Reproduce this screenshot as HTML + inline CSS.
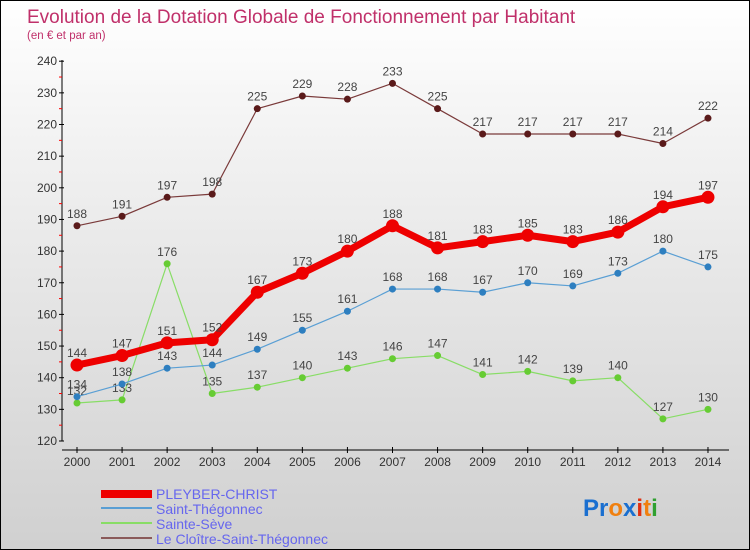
<!DOCTYPE html>
<html><head><meta charset="utf-8"><style>
body{margin:0}
#c{width:748px;height:548px;border:1px solid #000;background:linear-gradient(#fff,#f0f0f0 30%,#d0d0d0);position:relative;overflow:hidden;font-family:"Liberation Sans",sans-serif}
</style></head><body>
<div id="c">
<svg id="s" width="748" height="548" style="position:absolute;left:0;top:0">
<text x="26" y="22" font-size="19" fill="#c0306a">Evolution de la Dotation Globale de Fonctionnement par Habitant</text>
<text x="26" y="38" font-size="11.5" fill="#c0306a">(en € et par an)</text>
<g id="axes"></g><g id="series"></g>
<g>
<rect x="100" y="489" width="51" height="8" fill="#e00"/>
<text x="155" y="498" font-size="14" fill="#6666ee">PLEYBER-CHRIST</text>
<line x1="100" y1="507" x2="151" y2="507" stroke="#5a9fd4" stroke-width="2"/>
<text x="155" y="513" font-size="14" fill="#6666ee">Saint-Thégonnec</text>
<line x1="100" y1="522" x2="151" y2="522" stroke="#88dd66" stroke-width="2"/>
<text x="155" y="528" font-size="14" fill="#6666ee">Sainte-Sève</text>
<line x1="100" y1="537" x2="151" y2="537" stroke="#8a5a5a" stroke-width="2"/>
<text x="155" y="543" font-size="14" fill="#6666ee">Le Cloître-Saint-Thégonnec</text>
</g>
<text x="582" y="515" font-size="24" font-weight="bold"><tspan fill="#1a6fd0">Pr</tspan><tspan fill="#f08010">o</tspan><tspan fill="#1a6fd0">x</tspan><tspan fill="#e03010">i</tspan><tspan fill="#f08010">t</tspan><tspan fill="#30a030">i</tspan></text>
</svg></div>
<script>
const years=[2000,2001,2002,2003,2004,2005,2006,2007,2008,2009,2010,2011,2012,2013,2014];
const yTicks=[120,130,140,150,160,170,180,190,200,210,220,230,240];
const pleyber=[144,147,151,152,167,173,180,188,181,183,185,183,186,194,197];
const stThegonnec=[134,138,143,144,149,155,161,168,168,167,170,169,173,180,175];
const steSeve=[132,133,176,135,137,140,143,146,147,141,142,139,140,127,130];
const cloitre=[188,191,197,198,225,229,228,233,225,217,217,217,217,214,222];
const NS="http://www.w3.org/2000/svg";
const X=i=>76+i*45.07, Y=v=>440-(v-120)*3.165;
function mk(t,a,p){const e=document.createElementNS(NS,t);for(const k in a)e.setAttribute(k,a[k]);p.appendChild(e);return e;}
const ax=document.getElementById('axes'), sg=document.getElementById('series');
let e=mk('line',{x1:61,y1:59,x2:61,y2:440,stroke:'#000'},ax);

e=mk('line',{x1:61,y1:449,x2:728,y2:449,stroke:'#000'},ax);

yTicks.forEach(v=>{mk('line',{x1:58,y1:Y(v),x2:63,y2:Y(v),stroke:'#000'},ax);
 if(v<240)mk('line',{x1:58,y1:Y(v+5),x2:61,y2:Y(v+5),stroke:'#f00'},ax);
 const t=mk('text',{x:56,y:Y(v)+4,'font-size':12,fill:'#333','text-anchor':'end'},ax);t.textContent=v;
 });
years.forEach((y,i)=>{mk('line',{x1:X(i),y1:446,x2:X(i),y2:452,stroke:'#000'},ax);
 const t=mk('text',{x:X(i),y:465,'font-size':12,fill:'#333','text-anchor':'middle'},ax);t.textContent=y;
 });
function series(d,col,dot,w,r,name){
 const g=mk('g',{},sg);
 mk('polyline',{points:d.map((v,i)=>X(i)+','+Y(v)).join(' '),fill:'none',stroke:col,'stroke-width':w,'stroke-linejoin':'round'},g);
 d.forEach((v,i)=>{const c=mk('circle',{cx:X(i),cy:Y(v),r:r,fill:dot},g);
  
  const t=mk('text',{x:X(i),y:Y(v)-8,'font-size':12,fill:'#444','text-anchor':'middle'},g);t.textContent=v;});
}
series(steSeve,'#88dd66','#66cc33',1.2,3.5,'sainte-seve');
series(stThegonnec,'#5a9fd4','#2e7fc0',1.2,3.5,'saint-thegonnec');
series(cloitre,'#7a3a3a','#5a1a1a',1.2,3.5,'le-cloitre');
series(pleyber,'#ee0000','#ee0000',7,6.5,'pleyber-christ');
</script>
</body></html>
